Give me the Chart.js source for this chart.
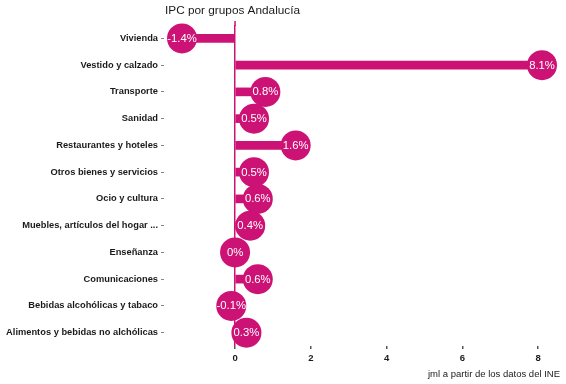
<!DOCTYPE html>
<html>
<head>
<meta charset="utf-8">
<script src="https://cdn.jsdelivr.net/npm/chart.js@4"></script>
<style>
  html, body { margin: 0; padding: 0; background: #fff; }
  #wrap { width: 566px; height: 384px; position: relative; }
</style>
</head>
<body>
<div id="wrap"><canvas id="ipcChart" width="566" height="384"></canvas></div>
<script>
// grupos de arriba a abajo
const grupos = [
  'Vivienda', 'Vestido y calzado', 'Transporte', 'Sanidad',
  'Restaurantes y hoteles', 'Otros bienes y servicios', 'Ocio y cultura',
  'Muebles, artículos del hogar ...', 'Enseñanza', 'Comunicaciones',
  'Bebidas alcohólicas y tabaco', 'Alimentos y bebidas no alchólicas'
];
const variacion = [-1.4, 8.1, 0.8, 0.5, 1.6, 0.5, 0.6, 0.4, 0, 0.6, -0.1, 0.3];
const xTicks = [0, 2, 4, 6, 8];

const magenta = '#cd1275';
const fontFam = '"Liberation Sans", Arial, sans-serif';

// etiquetas dentro de los circulos, titulo y pie
const textPlugin = {
  id: 'textPlugin',
  afterDatasetsDraw(chart) {
    const ctx = chart.ctx;
    const meta = chart.getDatasetMeta(1);
    ctx.save();
    // linea vertical en cero, un poco por encima del area
    const x0 = chart.scales.x.getPixelForValue(0);
    ctx.strokeStyle = magenta;
    ctx.lineWidth = 1.5;
    ctx.beginPath();
    ctx.moveTo(x0, 21);
    ctx.lineTo(x0, chart.chartArea.top + 1);
    ctx.stroke();

    ctx.fillStyle = '#fff';
    ctx.font = '11.3px ' + fontFam;
    ctx.textAlign = 'center';
    ctx.textBaseline = 'middle';
    meta.data.forEach((pt, i) => {
      ctx.fillText(variacion[i] + '%', pt.x, pt.y + 0.5);
    });
    ctx.fillStyle = '#1a1a1a';
    ctx.font = '11.8px ' + fontFam;
    ctx.textAlign = 'left';
    ctx.textBaseline = 'alphabetic';
    ctx.fillText('IPC por grupos Andalucía', 165, 14);
    ctx.font = '9.5px ' + fontFam;
    ctx.textAlign = 'right';
    ctx.fillText('jml a partir de los datos del INE', 560, 377);
    ctx.restore();
  }
};

const ctx = document.getElementById('ipcChart').getContext('2d');
new Chart(ctx, {
  type: 'bar',
  data: {
    labels: grupos,
    datasets: [
      {
        data: variacion,
        backgroundColor: magenta,
        barThickness: 8,
        order: 2
      },
      {
        type: 'line',
        data: grupos.map((g, i) => ({ x: variacion[i], y: g })),
        showLine: false,
        pointRadius: 15,
        pointBackgroundColor: magenta,
        pointBorderWidth: 0,
        order: 1
      }
    ]
  },
  options: {
    indexAxis: 'y',
    responsive: false,
    animation: false,
    events: [],
    layout: { autoPadding: false, padding: { top: 25, right: 6, left: 0, bottom: 0 } },
    plugins: { legend: { display: false }, tooltip: { enabled: false } },
    scales: {
      x: {
        type: 'linear',
        min: -1.875,
        max: 8.575,
        afterBuildTicks: (scale) => { scale.ticks = xTicks.map(v => ({ value: v })); },
        afterFit: (scale) => { scale.height = 38; scale.paddingLeft = 0; scale.paddingRight = 0; },
        border: { display: false },
        grid: {
          color: (c) => (c.tick && c.tick.value === 0 ? magenta : 'rgba(0,0,0,0)'),
          lineWidth: 1.5,
          tickColor: '#555',
          tickLength: 3
        },
        ticks: {
          color: '#1a1a1a',
          font: { family: fontFam, size: 9.5, weight: 'bold' },
          padding: 4
        }
      },
      y: {
        afterFit: (scale) => { scale.width = 164; scale.paddingTop = 0; scale.paddingBottom = 0; },
        border: { display: false },
        grid: {
          offset: false,
          drawOnChartArea: false,
          tickColor: '#888',
          tickLength: 3
        },
        ticks: {
          color: '#1a1a1a',
          font: { family: fontFam, size: 9.3, weight: 'bold' },
          padding: 3
        }
      }
    }
  },
  plugins: [textPlugin]
});
</script>
</body>
</html>
